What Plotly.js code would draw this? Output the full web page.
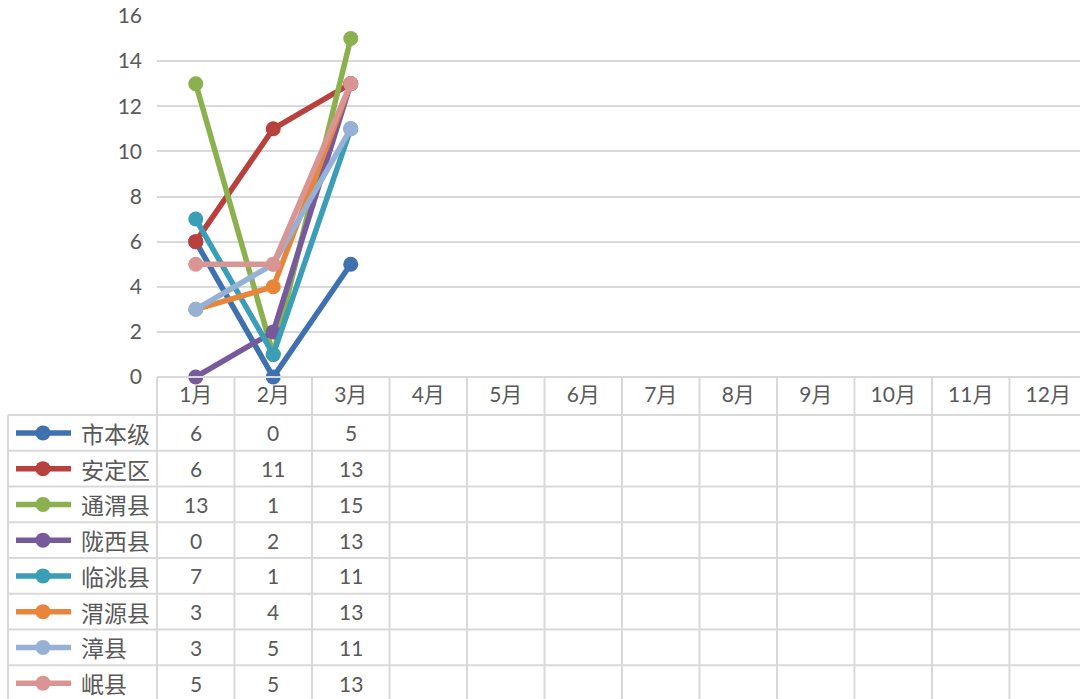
<!DOCTYPE html>
<html>
<head>
<meta charset="utf-8">
<script src="https://cdn.plot.ly/plotly-3.0.1.min.js"></script>
<style>html,body{margin:0;padding:0;background:#fff;}#chart{width:1080px;height:699px;}</style>
</head>
<body>
<div id="chart"></div>
<script>
const months = ["1月","2月","3月","4月","5月","6月","7月","8月","9月","10月","11月","12月"];
const seriesNames = ["市本级","安定区","通渭县","陇西县","临洮县","渭源县","漳县","岷县"];
const shiBenJi = [6,0,5];
const anDingQu = [6,11,13];
const tongWeiXian = [13,1,15];
const longXiXian = [0,2,13];
const linTaoXian = [7,1,11];
const weiYuanXian = [3,4,13];
const zhangXian = [3,5,11];
const minXian = [5,5,13];
const seriesValues = [shiBenJi, anDingQu, tongWeiXian, longXiXian, linTaoXian, weiYuanXian, zhangXian, minXian];
const colors = ["#3F70B0","#B8413E","#8BB04E","#775A9C","#3A9EB7","#E9853B","#95B1D6","#D99593"];

const L = 157, T = 16, B = 377, R = 1080;
const px = v => (v - L) / (R - L);
const py = v => (B - v) / (B - T);
const rowTop = 415, rowH = 35.75;
const grid = "#d9d9d9";
const txt = "#595959";
const cjk = "'Noto Sans CJK SC', sans-serif";
const num = "Lato, 'Noto Sans CJK SC', sans-serif";

const traces = seriesNames.map((n, i) => ({
  type: "scatter", mode: "lines+markers", name: n,
  x: months.slice(0, seriesValues[i].length), y: seriesValues[i],
  line: {color: colors[i], width: 5.5},
  marker: {color: colors[i], size: 15},
  cliponaxis: false, showlegend: false, hoverinfo: "skip"
}));

const shapes = [];
const annotations = [];
const bottom = 705;
for (let k = 0; k <= 8; k++) {
  const y = rowTop + k * rowH;
  shapes.push({type: "line", xref: "paper", yref: "paper", x0: px(8), x1: 1, y0: py(y), y1: py(y), line: {color: grid, width: 2}});
}
shapes.push({type: "line", xref: "paper", yref: "paper", x0: 0, x1: 1, y0: 0, y1: 0, line: {color: grid, width: 2}});
shapes.push({type: "line", xref: "paper", yref: "paper", x0: px(8), x1: px(8), y0: py(rowTop), y1: py(bottom), line: {color: grid, width: 2}});
shapes.push({type: "line", xref: "paper", yref: "paper", x0: 0, x1: 0, y0: 0, y1: py(bottom), line: {color: grid, width: 2}});
for (let c = 0; c < months.length - 1; c++) {
  shapes.push({type: "line", xref: "x", yref: "paper", x0: c + 0.5, x1: c + 0.5, y0: 0, y1: py(bottom), line: {color: grid, width: 2}});
}
seriesNames.forEach((n, i) => {
  const cy = rowTop + (i + 0.5) * rowH;
  shapes.push({type: "line", xref: "paper", yref: "paper", x0: px(16), x1: px(71), y0: py(cy), y1: py(cy), line: {color: colors[i], width: 5.5}});
  shapes.push({type: "circle", xref: "paper", yref: "paper", x0: px(43 - 7.5), x1: px(43 + 7.5), y0: py(cy + 7.5), y1: py(cy - 7.5), fillcolor: colors[i], line: {color: colors[i], width: 0}});
  annotations.push({xref: "paper", yref: "paper", x: px(79), y: py(cy), xanchor: "left", yanchor: "middle", text: n, showarrow: false, font: {family: cjk, size: 23, color: txt}});
  seriesValues[i].forEach((v, j) => {
    annotations.push({xref: "x", yref: "paper", x: j, y: py(cy), xanchor: "center", yanchor: "middle", text: String(v), showarrow: false, font: {family: num, size: 21, color: txt}});
  });
});

const layout = {
  width: 1080, height: 699,
  margin: {l: L, r: 0, t: T, b: 699 - B, pad: 0},
  paper_bgcolor: "#ffffff", plot_bgcolor: "#ffffff",
  xaxis: {
    type: "category", categoryorder: "array", categoryarray: months,
    range: [-0.5, 11.41], showgrid: false, zeroline: false, showline: false,
    ticks: "", tickfont: {family: num, size: 21, color: txt}, ticklabelstandoff: 3, fixedrange: true
  },
  yaxis: {
    range: [0, 16], dtick: 2, tick0: 0, showgrid: true, gridcolor: grid, gridwidth: 2,
    zeroline: false, showline: false, ticks: "", ticklabelstandoff: 14,
    tickfont: {family: num, size: 21, color: txt}, fixedrange: true
  },
  shapes: shapes, annotations: annotations
};

Plotly.newPlot("chart", traces, layout, {displayModeBar: false, staticPlot: true});
</script>
</body>
</html>
